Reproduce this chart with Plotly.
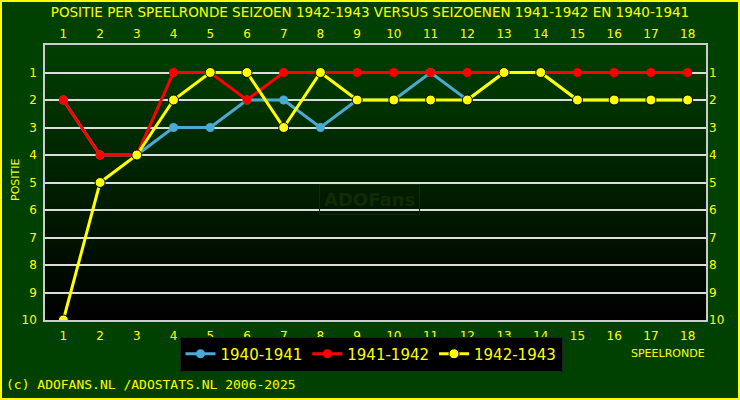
import plotly.graph_objects as go

rounds = list(range(1, 19))
s1940 = [2, 4, 4, 3, 3, 2, 2, 3, 2, 2, 1, 2, 1, 1, 2, 2, 2, 2]
s1941 = [2, 4, 4, 1, 1, 2, 1, 1, 1, 1, 1, 1, 1, 1, 1, 1, 1, 1]
s1942 = [10, 5, 4, 2, 1, 1, 3, 1, 2, 2, 2, 2, 1, 1, 2, 2, 2, 2]
names = ["1940-1941", "1941-1942", "1942-1943"]
ytickvals = list(range(1, 11))

YEL = "#FFFF00"
fig = go.Figure()
fig.add_trace(go.Scatter(x=rounds, y=s1940, name=names[0], mode="lines+markers",
                         line=dict(color="#4AAAD4", width=3),
                         marker=dict(color="#4AAAD4", size=9)))
fig.add_trace(go.Scatter(x=rounds, y=s1941, name=names[1], mode="lines+markers",
                         line=dict(color="#FF0000", width=3),
                         marker=dict(color="#FF0000", size=9)))
fig.add_trace(go.Scatter(x=rounds, y=s1942, name=names[2], mode="lines+markers",
                         line=dict(color=YEL, width=3),
                         marker=dict(color=YEL, size=10, line=dict(color="black", width=1))))
# invisible trace to activate the mirrored axes
fig.add_trace(go.Scatter(x=rounds, y=s1942, xaxis="x2", yaxis="y2", mode="markers",
                         marker=dict(opacity=0), showlegend=False, hoverinfo="skip"))

L, R, T, B = 45, 34, 45, 80
W, H = 740, 400
pw, ph = W - L - R, H - T - B

def px(xp):
    return (xp - L) / pw

def py(yp):
    return (H - B - yp) / ph

shapes = []
n = 60
for i in range(n):
    g = int(round(64 * (1 - (i + 0.5) / n)))
    shapes.append(dict(type="rect", xref="paper", yref="paper", layer="below",
                       x0=0, x1=1, y0=1 - (i + 1) / n, y1=1 - i / n + 0.002,
                       line=dict(width=0), fillcolor=f"rgb(0,{g},0)"))
shapes.append(dict(type="rect", xref="paper", yref="paper",
                   x0=px(1), x1=px(739), y0=py(1), y1=py(399),
                   line=dict(color=YEL, width=2)))

tickfont = dict(color=YEL, size=12, family="DejaVu Sans")
fig.update_layout(
    width=W, height=H,
    margin=dict(l=L, r=R, t=T, b=B, autoexpand=False),
    paper_bgcolor="#004000", plot_bgcolor="#002000",
    font=dict(family="DejaVu Sans", color=YEL),
    title=dict(text="POSITIE PER SPEELRONDE SEIZOEN 1942-1943 VERSUS SEIZOENEN 1941-1942 EN 1940-1941",
               x=0.5, xanchor="center", y=1 - 12 / H, yanchor="middle", yref="container",
               font=dict(size=13.5, color=YEL)),
    xaxis=dict(range=[0.5, 18.5], tickvals=rounds, showgrid=False, zeroline=False,
               showline=True, linecolor="#cccccc", linewidth=1.5, mirror=True,
               tickfont=tickfont, ticks="", ticklabelstandoff=4, automargin=False),
    xaxis2=dict(range=[0.5, 18.5], tickvals=rounds, overlaying="x", side="top",
                showgrid=False, zeroline=False, tickfont=tickfont, ticks="",
                ticklabelstandoff=4, automargin=False),
    yaxis=dict(range=[10, 0], tickvals=ytickvals, showgrid=True, gridcolor="#dddddd",
               gridwidth=1.5, zeroline=False, showline=True, linecolor="#cccccc",
               linewidth=1.5, mirror=True, tickfont=tickfont, ticks="",
               ticklabelstandoff=4, automargin=False),
    yaxis2=dict(range=[10, 0], tickvals=ytickvals, overlaying="y", side="right",
                showgrid=False, zeroline=False, tickfont=tickfont, ticks="",
                ticklabelstandoff=2, automargin=False),
    legend=dict(orientation="h", x=px(371), xanchor="center", y=py(354), yanchor="middle",
                bgcolor="black", bordercolor="#202020", borderwidth=1,
                font=dict(size=15, color=YEL, family="DejaVu Sans"),
                itemwidth=30),
    shapes=shapes,
    annotations=[
        dict(text="POSITIE", xref="paper", yref="paper", x=px(15), y=py(180),
             xanchor="center", yanchor="middle",
             textangle=-90, showarrow=False, font=dict(size=11, color=YEL)),
        dict(text="SPEELRONDE", xref="paper", yref="paper", x=px(668), y=py(353),
             xanchor="center", yanchor="middle",
             showarrow=False, font=dict(size=11, color=YEL)),
        dict(text="(c) ADOFANS.NL /ADOSTATS.NL 2006-2025", xref="paper", yref="paper",
             x=px(4), y=py(384), xanchor="left", yanchor="middle", showarrow=False,
             font=dict(size=13, color=YEL, family="DejaVu Sans Mono")),
        dict(text="<b>ADOFans</b>", xref="paper", yref="paper", x=px(369), y=py(199),
             xanchor="center", yanchor="middle",
             showarrow=False, font=dict(size=18, color="#122c00", family="Liberation Sans Narrow, DejaVu Sans"),
             bordercolor="#122c00", borderwidth=1, borderpad=4),
    ],
)
fig.write_html("out.html", config={"displayModeBar": False},
               post_script="document.body.style.margin='0';document.body.style.overflow='hidden';")
